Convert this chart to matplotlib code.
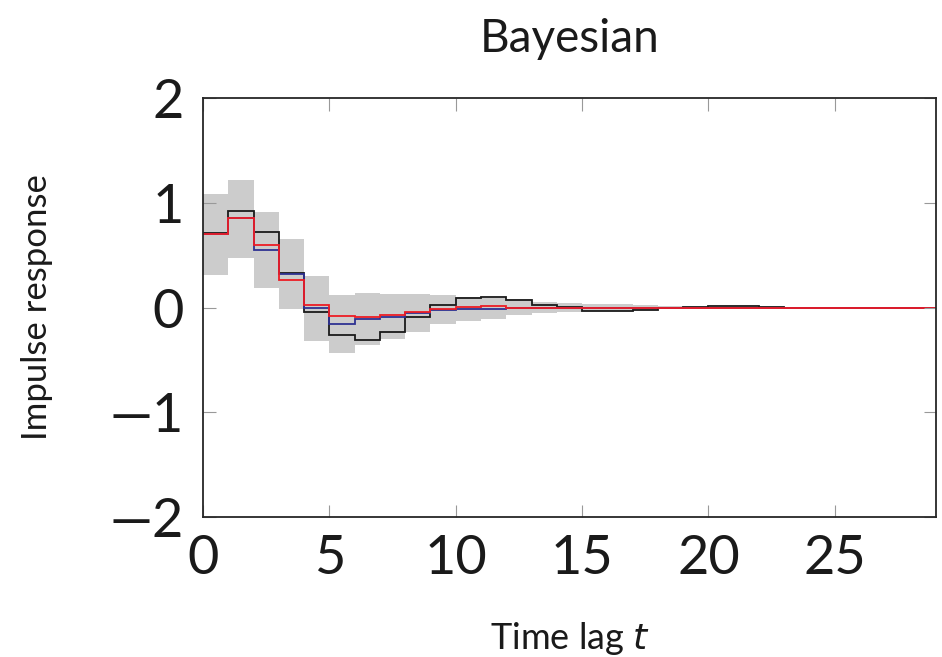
import numpy as np
import matplotlib
matplotlib.use("Agg")
import matplotlib.pyplot as plt

# impulse response estimates per time lag (0..28)
true_resp = [0.71, 0.92, 0.72, 0.325, -0.04, -0.26, -0.31, -0.23, -0.095, 0.022,
             0.093, 0.10, 0.07, 0.022, 0.003, -0.03, -0.03, -0.025, -0.005, 0.003,
             0.015, 0.015, 0.008, 0.0, 0.0, 0.0, 0.0, 0.0, 0.0]
post_mean = [0.70, 0.85, 0.55, 0.32, 0.0, -0.156, -0.11, -0.09, -0.057, -0.028,
             -0.015, -0.01, -0.005, 0.0, 0.0, 0.0, 0.0, 0.0, 0.0, 0.0,
             0.0, 0.0, 0.0, 0.0, 0.0, 0.0, 0.0, 0.0, 0.0]
estimate = [0.70, 0.85, 0.595, 0.265, 0.02, -0.08, -0.095, -0.067, -0.04, -0.015,
            0.003, 0.01, 0.0, 0.0, 0.0, 0.0, 0.0, 0.0, 0.0, 0.0,
            0.0, 0.0, 0.0, 0.0, 0.0, 0.0, 0.0, 0.0, 0.0]
band_hi = [1.08, 1.22, 0.91, 0.655, 0.30, 0.115, 0.137, 0.13, 0.13, 0.115,
           0.098, 0.09, 0.083, 0.05, 0.045, 0.035, 0.03, 0.02, 0.012, 0.008,
           0.006, 0.004, 0.003, 0.002, 0.001, 0.001, 0.001, 0.0, 0.0]
band_lo = [0.315, 0.475, 0.19, -0.01, -0.315, -0.435, -0.355, -0.30, -0.23, -0.156,
           -0.13, -0.108, -0.076, -0.054, -0.045, -0.035, -0.03, -0.02, -0.012, -0.008,
           -0.006, -0.004, -0.003, -0.002, -0.001, -0.001, -0.001, 0.0, 0.0]

x_ticks = [0, 5, 10, 15, 20, 25]
y_ticks = [-2, -1, 0, 1, 2]
y_ticklabels = ['\u20142', '\u20141', '0', '1', '2']

plt.rcParams['font.family'] = ['Lato', 'DejaVu Sans']

fig = plt.figure(figsize=(9.42, 6.57), dpi=100)
ax = fig.add_axes([0.2155, 0.2131, 0.7781, 0.6377])

edges = np.arange(len(true_resp) + 1)
ax.stairs(band_hi, edges, baseline=band_lo, fill=True, color='#cccccc', lw=0)
ax.stairs(true_resp, edges, baseline=None, color='#1a1a1a', lw=1.3)
ax.stairs(post_mean, edges, baseline=None, color='#2e3192', lw=1.3)
ax.stairs(estimate, edges, baseline=None, color='#ed1c24', lw=1.3)

ax.set_xlim(0, 29)
ax.set_ylim(-2, 2)
ax.set_xticks(x_ticks)
ax.set_yticks(y_ticks)
ax.set_yticklabels(y_ticklabels)
ax.tick_params(direction='in', length=9, width=0.8, color='#999999',
               top=True, right=True, labelsize=39, pad=10, labelcolor='#1a1a1a')
ax.tick_params(axis='y', pad=14)
ax.tick_params(axis='x', pad=12)
for s in ax.spines.values():
    s.set_linewidth(1.3)
    s.set_color('#262626')

ax.set_title('Bayesian', fontsize=33, pad=33, color='#1a1a1a')
ax.set_xlabel('Time lag $t$', fontsize=26, color='#1a1a1a')
ax.set_ylabel('Impulse response', fontsize=25, color='#1a1a1a')
ax.xaxis.set_label_coords(0.5, -0.245)
ax.yaxis.set_label_coords(-0.205, 0.5)

fig.savefig('out.png', dpi=100)
